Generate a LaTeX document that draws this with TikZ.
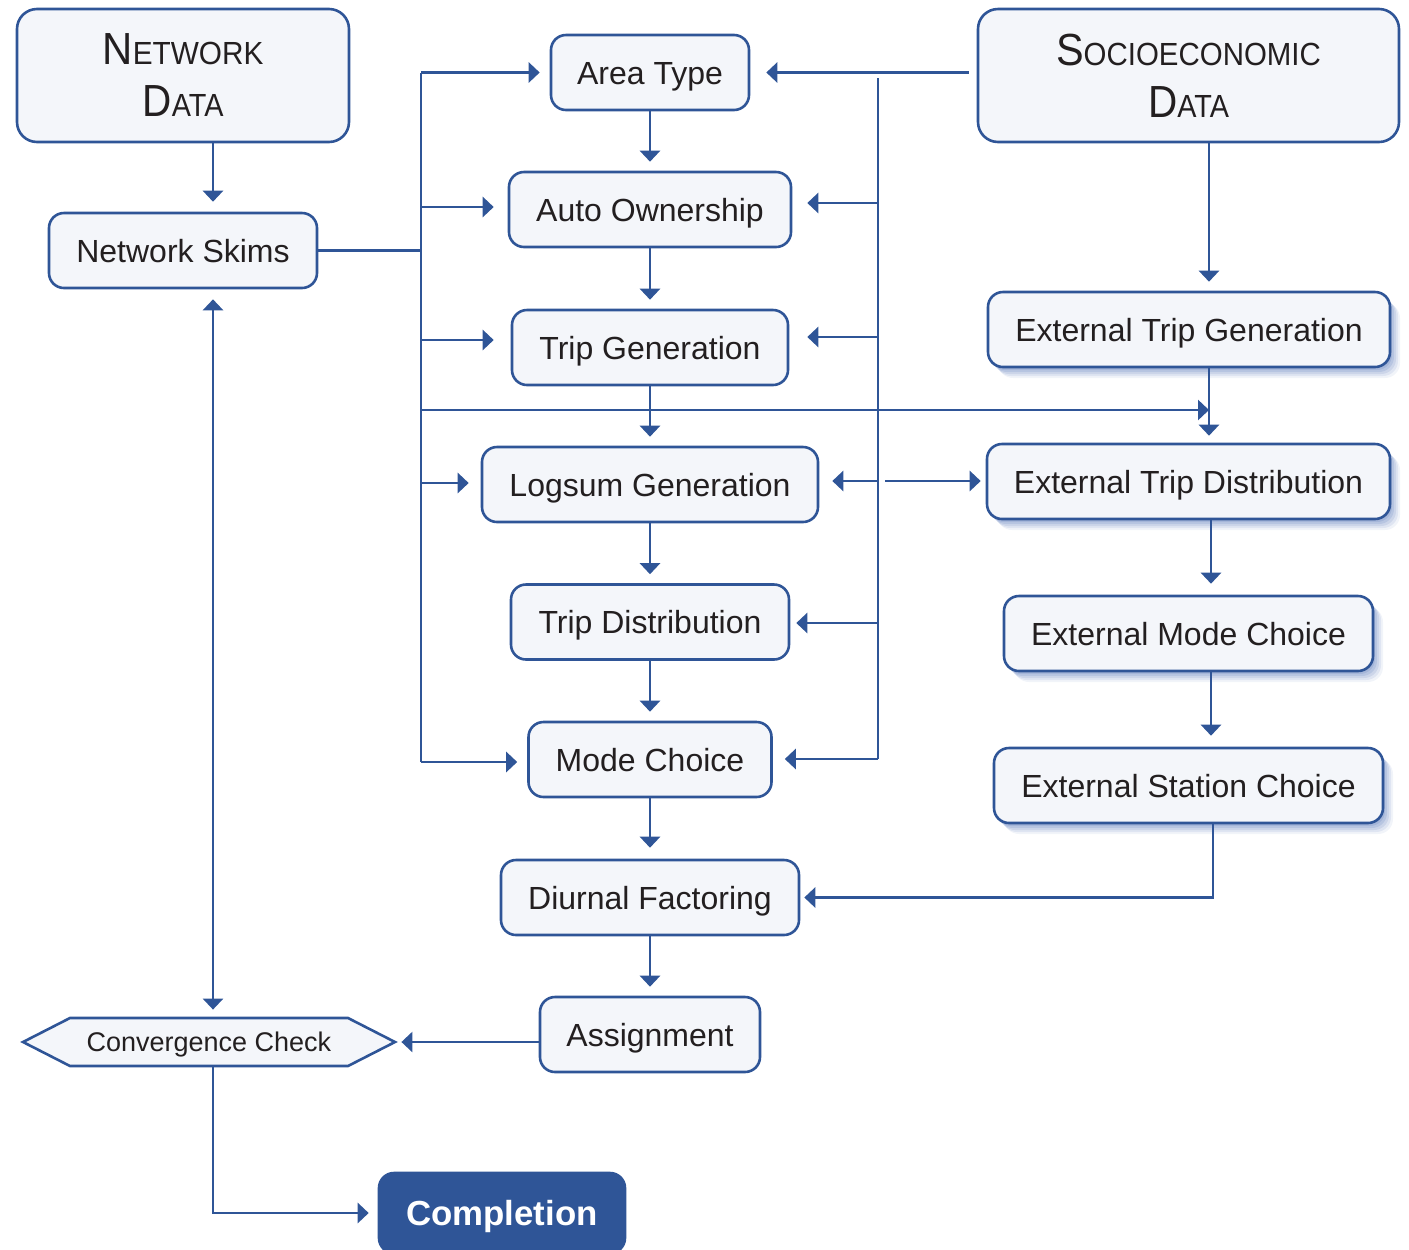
\documentclass[tikz,border=0pt]{standalone}
\usepackage{fontspec}
\usepackage{graphicx}
\setmainfont{Liberation Sans}
\usetikzlibrary{arrows.meta,calc,shadows}
\definecolor{myblue}{HTML}{2F5597}
\definecolor{boxfill}{HTML}{F4F6FA}
\definecolor{txt}{HTML}{231F20}
\definecolor{shadowc}{HTML}{3F63AE}
\newcommand\bigsc[2]{{\fontsize{22.5}{26}\selectfont #1}{\fontsize{16}{26}\selectfont #2}}
\tikzset{
  box/.style={rounded corners=7.5pt, draw=myblue, line width=1.3pt, fill=boxfill,
    text=txt, font=\fontsize{16}{19}\selectfont, inner sep=0pt, minimum height=37.5pt,
    text height=11.5pt, text depth=0pt},
  bigbox/.style={box, rounded corners=10pt, align=center, minimum height=66.5pt,
    text height=, text depth=, font=\fontsize{22.5}{26}\selectfont},
  shbox/.style={box,
    general shadow={fill=shadowc, opacity=0.16, shadow xshift=1pt, shadow yshift=-1.5pt},
    general shadow={fill=shadowc, opacity=0.14, shadow xshift=2pt, shadow yshift=-2.5pt},
    general shadow={fill=shadowc, opacity=0.12, shadow xshift=3pt, shadow yshift=-3.5pt},
    general shadow={fill=shadowc, opacity=0.10, shadow xshift=4pt, shadow yshift=-4.5pt},
    general shadow={fill=shadowc, opacity=0.07, shadow xshift=5pt, shadow yshift=-5.5pt}},
  line/.style={draw=myblue, line width=1.4pt},
  arr/.style={line, -{Triangle[length=5.5pt,width=10pt]}, shorten >=4.5pt},
}
\begin{document}
\begin{tikzpicture}[x=0.5pt, y=-0.5pt]
\useasboundingbox (0,0) rectangle (1409,1249);
% nodes
\node[bigbox, minimum width=166pt] (ndata) at (183,75.5)
  {\scalebox{0.93}[1]{\bigsc{N}{ETWORK}}\\\scalebox{0.9}[1]{\bigsc{D}{ATA}}};
\node[bigbox, minimum width=210.5pt] (socio) at (1188.5,75.5)
  {\scalebox{0.92}[1]{\bigsc{S}{OCIOECONOMIC}}\\\scalebox{0.9}[1]{\bigsc{D}{ATA}}};
\node[box, minimum width=99pt] (area) at (650,72.5) {Area Type};
\node[box, minimum width=141pt] (auto) at (650,209.5) {Auto Ownership};
\node[box, minimum width=138pt] (tgen) at (650,347.5) {Trip Generation};
\node[box, minimum width=168pt] (logsum) at (650,484.5) {Logsum Generation};
\node[box, minimum width=139pt] (tdist) at (650,622) {Trip Distribution};
\node[box, minimum width=121.5pt] (mode) at (650,759.5) {Mode Choice};
\node[box, minimum width=149pt] (diurnal) at (650,897.5) {Diurnal Factoring};
\node[box, minimum width=110pt] (assign) at (650,1034.5) {Assignment};
\node[box, minimum width=134pt] (nskims) at (183,250.5) {Network Skims};
\node[shbox, minimum width=201pt] (etg) at (1189,329.5) {External Trip Generation};
\node[shbox, minimum width=201.5pt] (etd) at (1188.5,481.5) {External Trip Distribution};
\node[shbox, minimum width=184.5pt] (emc) at (1188.5,633.5) {External Mode Choice};
\node[shbox, minimum width=194.5pt] (esc) at (1188.5,785.5) {External Station Choice};
\node[box, fill=myblue, text=white, minimum width=123pt, minimum height=40pt,
  text height=12.4pt, font=\fontsize{17.4}{20}\selectfont\bfseries] (compl) at (502,1213) {Completion};
\node[inner sep=0pt, minimum width=186pt, minimum height=24pt] (conv) at (209,1042) {};
\draw[line, line width=1.3pt, fill=boxfill] ($(conv)+(-186,0)$) -- ($(conv)+(-139,-24)$) -- ($(conv)+(139,-24)$)
  -- ($(conv)+(186,0)$) -- ($(conv)+(139,24)$) -- ($(conv)+(-139,24)$) -- cycle;
\node[text=txt, font=\fontsize{13.5}{16}\selectfont, inner sep=0pt, text height=9.7pt, text depth=0pt]
  (convtext) at (conv) {Convergence Check};
% helper coordinates
\coordinate (lb) at (421,0);
\coordinate (rb) at (878,0);
\coordinate (ecol) at (1209,0);
% network data / skims
\draw[arr, shorten >=5pt] (ndata.south -| 213,0) -- (nskims.north -| 213,0);
\draw[line] (nskims.east) -- (lb |- nskims.east);
\draw[arr, shorten >=5pt] (lb |- area.west) -- (area.west);
\draw[line] (lb |- area.west) -- (lb |- 0,762);
\draw[arr, shorten >=7pt] (lb |- 0,207) -- (auto.west |- 0,207);
\draw[arr, shorten >=8.5pt] (lb |- 0,340) -- (tgen.west |- 0,340);
\draw[arr, shorten >=6pt] (lb |- 0,483) -- (logsum.west |- 0,483);
\draw[arr, shorten >=5pt] (lb |- 0,762) -- (mode.west |- 0,762);
\draw[arr, shorten >=0pt] (lb |- 0,410) -- (ecol |- 0,410);
% socioeconomic
\draw[arr, shorten >=8pt] ($(socio.west |- area.east)+(-8,0)$) -- (area.east);
\draw[line] (rb |- 0,78) -- (rb |- 0,759);
\draw[arr, shorten >=7.5pt] (rb |- 0,203) -- (auto.east |- 0,203);
\draw[arr, shorten >=9pt] (rb |- 0,337) -- (tgen.east |- 0,337);
\draw[arr, shorten >=6.5pt] (rb |- 0,481) -- (logsum.east |- 0,481);
\draw[arr, shorten >=2.5pt] ($(rb |- 0,481)+(7,0)$) -- (etd.west |- 0,481);
\draw[arr, shorten >=3pt] (rb |- 0,623) -- (tdist.east |- 0,623);
\draw[arr, shorten >=6pt] (rb |- 0,759) -- (mode.east |- 0,759);
% main column
\draw[arr] (area) -- (auto);
\draw[arr] (auto) -- (tgen);
\draw[arr] (tgen) -- (logsum);
\draw[arr] (logsum) -- (tdist);
\draw[arr] (tdist) -- (mode);
\draw[arr, shorten >=5.5pt] (mode) -- (diurnal);
\draw[arr] (diurnal) -- (assign);
% external column
\draw[arr] (socio.south -| ecol) -- (etg.north -| ecol);
\draw[arr, shorten >=3.5pt] (etg.south -| ecol) -- (etd.north -| ecol);
\draw[arr, shorten >=5.5pt] (etd.south -| 1211,0) -- (emc.north -| 1211,0);
\draw[arr, shorten >=5.5pt] (emc.south -| 1211,0) -- (esc.north -| 1211,0);
\draw[arr, shorten >=2pt] (esc.south -| 1213,0) |- (diurnal.east);
% convergence
\draw[arr, shorten >=3pt] (assign.west |- conv.east) -- (conv.east);
\draw[arr, {Triangle[length=5.5pt,width=10pt]}-{Triangle[length=5.5pt,width=10pt]},
  shorten <=5pt, shorten >=4pt] (nskims.south -| 213,0) -- (conv.north -| 213,0);
\draw[arr] (conv.south -| 213,0) |- (compl.west);
\end{tikzpicture}
\end{document}
